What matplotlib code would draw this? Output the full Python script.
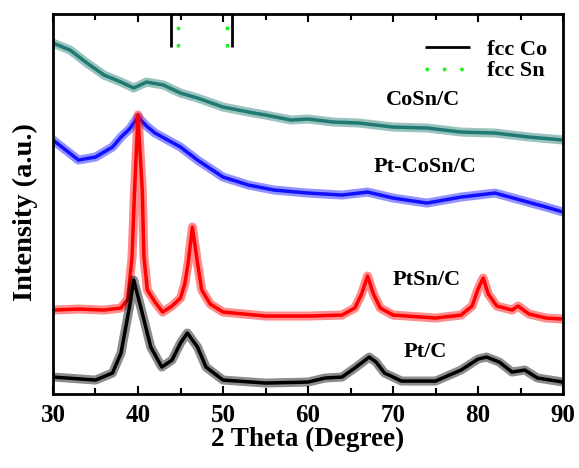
import matplotlib
matplotlib.use("Agg")
from matplotlib import pyplot as plt
from matplotlib.ticker import MultipleLocator

# 2 theta (degree) / relative intensity (a.u.)
cosn_x = [30, 32, 34, 36, 38, 39.5, 41, 43, 45, 47, 50, 53, 55, 58, 60, 63, 66, 70, 74, 78, 82, 86, 90]
cosn_y = [351, 344, 331, 319, 312, 306, 312, 309, 301, 296, 287, 282, 279, 274, 275, 272, 271, 267, 266, 262, 261, 257, 254]

ptcosn_x = [30, 33, 35, 37, 38, 39, 40, 41, 42, 45, 47, 50, 53, 56, 60, 64, 67, 70, 74, 78, 82, 85, 88, 90]
ptcosn_y = [254, 234, 237, 247, 257, 265, 277, 268, 261, 247, 234, 217, 209, 204, 201, 199, 202, 196, 191, 197, 201, 194, 187, 182]

ptsn_x = [30, 33, 36, 38, 38.8, 39.3, 39.6, 40.0, 40.5, 40.7, 41.1, 42, 42.9, 44, 45, 45.5, 45.9, 46.4, 47.0, 47.5,
          48.5, 50, 55, 60, 64, 65.5, 66.3, 67.0, 67.7, 68.5, 70, 75, 78, 79.3, 80.0, 80.6, 81.2, 82.2, 84.0, 84.7,
          86, 88, 90]
ptsn_y = [84, 85, 84, 86, 95, 137, 204, 279, 204, 137, 104, 92, 82, 88, 96, 110, 131, 167, 131, 104,
          90, 82, 78, 78, 79, 86, 100, 118, 100, 86, 79, 76, 79, 88, 105, 116, 100, 88, 84, 88,
          80, 76, 75]

ptc_x = [30, 35, 37, 38, 39, 39.5, 40.5, 41.5, 42.8, 44, 45, 45.8, 47, 48, 50, 55, 60, 62, 64, 65.5, 67.2, 68,
         69, 71, 75, 78, 80, 81, 82.5, 84, 85.5, 87, 90]
ptc_y = [17, 14, 21, 41, 87, 114, 81, 47, 27, 34, 51, 61, 47, 27, 14, 11, 12, 16, 17, 26, 37, 32,
         21, 13, 13, 24, 35, 37, 32, 22, 24, 16, 12]

co_lines = [43.9, 51.0]
sn_lines = [44.7, 50.5]

labels = ["CoSn/C", "Pt-CoSn/C", "PtSn/C", "Pt/C"]
label_pos = [(73.5, 294), (73.8, 227), (74.0, 114), (73.8, 42)]

plt.rcParams["font.family"] = ["Liberation Serif", "DejaVu Serif"]
plt.rcParams["font.weight"] = "bold"

fig = plt.figure(figsize=(5.79, 4.68), dpi=100)
ax = fig.add_axes([0.0915, 0.158, 0.881, 0.812])

# wide faint stroke stands in for the noise band, thin stroke for the trace
for xs, ys, c in [(cosn_x, cosn_y, "#207a72"), (ptcosn_x, ptcosn_y, "#1010ff"),
                  (ptsn_x, ptsn_y, "#ff0000"), (ptc_x, ptc_y, "black")]:
    ax.plot(xs, ys, color=c, lw=6.5, alpha=0.45, solid_joinstyle="round")
    ax.plot(xs, ys, color=c, lw=2.5, solid_joinstyle="round")

h_co = ax.vlines(co_lines, 347, 380, color="black", lw=2.0, label="fcc Co")
h_sn = ax.vlines(sn_lines, 347, 380, color="#22ee22", lw=2.5, linestyles=[(0, (1, 4))], label="fcc Sn")

for txt, (x, y) in zip(labels, label_pos):
    ax.text(x, y, txt, ha="center", va="center", fontsize=16, fontweight="bold")

ax.legend(handles=[h_co, h_sn], loc="upper right", frameon=False, fontsize=16,
          handlelength=2.0, handletextpad=0.8, borderaxespad=0.3, labelspacing=0.05,
          bbox_to_anchor=(1.0, 0.975))

ax.set_xlim(30, 90)
ax.set_ylim(0, 380)
ax.xaxis.set_major_locator(MultipleLocator(10))
ax.xaxis.set_minor_locator(MultipleLocator(5))
ax.tick_params(axis="x", which="both", direction="in", top=True, width=1.5, labelsize=18, pad=7)
ax.tick_params(axis="x", which="major", length=6)
ax.tick_params(axis="x", which="minor", length=4)
ax.set_yticks([])
for sp in ax.spines.values():
    sp.set_linewidth(2.0)

ax.set_xlabel("2 Theta (Degree)", fontsize=19.5, fontweight="bold", labelpad=0)
ax.set_ylabel("Intensity (a.u.)", fontsize=20.5, fontweight="bold")
ax.yaxis.set_label_coords(-0.03, 0.48)

fig.savefig("out.png", dpi=100)
